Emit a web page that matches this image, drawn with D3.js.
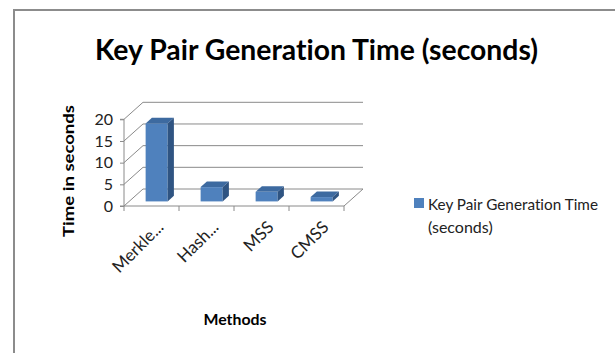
<!DOCTYPE html>
<html>
<head>
<meta charset="utf-8">
<script src="https://cdn.jsdelivr.net/npm/d3@7"></script>
<style>
  body { margin: 0; background: #fff; }
  svg { display: block; }
  text { font-variant-ligatures: none; }
</style>
</head>
<body>
<div id="chart"></div>
<script>
var w = 615, h = 353;

// data
var categories = ["Merkle...", "Hash...", "MSS", "CMSS"];
var values = [18, 3.3, 2.2, 1.0];
var yTicks = [0, 5, 10, 15, 20];
var seriesName = ["Key Pair Generation Time", "(seconds)"];

var font = "Lato, 'Open Sans', sans-serif";
var gridColor = "#8a8a8a";

// 3d depth offset (back wall relative to front plane)
var depthX = 19, depthY = -17;
var barFront = 0.27, barBack = 0.6;

var svg = d3.select("#chart").append("svg")
    .attr("width", w)
    .attr("height", h);

// outer frame
svg.append("rect")
    .attr("x", 14).attr("y", 10)
    .attr("width", 700).attr("height", 400)
    .attr("fill", "none")
    .attr("stroke", "#8c8c8c")
    .attr("stroke-width", 2);

var xScale = d3.scaleBand()
    .domain(categories)
    .range([124, 344])
    .paddingInner(0.6)
    .paddingOuter(0.3);

var yScale = d3.scaleLinear()
    .domain([0, 20])
    .range([206, 119.3]);

var x0 = xScale.range()[0], x1 = xScale.range()[1];

// back wall gridlines + side wall diagonals
var grid = svg.append("g").attr("stroke", gridColor).attr("stroke-width", 1).attr("fill", "none");
yTicks.forEach(function(t) {
    var y = yScale(t);
    grid.append("path")
        .attr("d", "M" + x0 + "," + y + "L" + (x0 + depthX) + "," + (y + depthY) +
                   "L" + (x1 + depthX) + "," + (y + depthY));
});
// floor front and right edges
grid.append("path")
    .attr("d", "M" + x0 + "," + yScale(0) + "L" + x1 + "," + yScale(0) +
               "L" + (x1 + depthX) + "," + (yScale(0) + depthY));

// y axis
var yAxis = d3.axisLeft(yScale).tickValues(yTicks).tickSize(4).tickPadding(7);
var gy = svg.append("g").attr("transform", "translate(" + x0 + ",0)").call(yAxis);
gy.select(".domain").attr("stroke", gridColor).attr("d", "M-4," + yScale(20) + "H0V" + yScale(0) + "H-4");
gy.selectAll(".tick line").attr("stroke", gridColor);
gy.selectAll(".tick text")
    .attr("font-family", font)
    .attr("font-size", "16px")
    .attr("fill", "#222");

// x axis ticks at category boundaries
var step = xScale.step();
var xb = svg.append("g").attr("stroke", gridColor);
d3.range(categories.length + 1).forEach(function(i) {
    var xx = x0 + i * step;
    xb.append("line").attr("x1", xx).attr("x2", xx)
        .attr("y1", yScale(0)).attr("y2", yScale(0) + 5);
});

// category labels
svg.append("g").selectAll("text")
    .data(categories)
    .enter()
    .append("text")
    .attr("transform", function(d) {
        var cx = xScale(d) + xScale.bandwidth() / 2 + 9;
        return "translate(" + cx + "," + 224 + ") rotate(-45)";
    })
    .attr("text-anchor", "end")
    .attr("dy", "0.35em")
    .attr("font-family", font)
    .attr("font-size", "17px")
    .attr("fill", "#222")
    .text(function(d) { return d; });

// bars
var fx = depthX * barFront, fy = depthY * barFront;
var bx = depthX * barBack, by = depthY * barBack;
var bars = svg.append("g").selectAll("g")
    .data(values)
    .enter()
    .append("g");

bars.append("rect")
    .attr("x", function(d, i) { return xScale(categories[i]) + fx; })
    .attr("y", function(d) { return yScale(d) + fy; })
    .attr("width", xScale.bandwidth())
    .attr("height", function(d) { return yScale(0) - yScale(d); })
    .attr("fill", "#4f81bd");

bars.append("path")
    .attr("d", function(d, i) {
        var a = xScale(categories[i]), b = a + xScale.bandwidth();
        var yt = yScale(d);
        return "M" + (a + fx) + "," + (yt + fy) + "L" + (b + fx) + "," + (yt + fy) +
               "L" + (b + bx) + "," + (yt + by) + "L" + (a + bx) + "," + (yt + by) + "Z";
    })
    .attr("fill", "#3d6aa0");

bars.append("path")
    .attr("d", function(d, i) {
        var b = xScale(categories[i]) + xScale.bandwidth();
        var yt = yScale(d), yb = yScale(0);
        return "M" + (b + fx) + "," + (yt + fy) + "L" + (b + bx) + "," + (yt + by) +
               "L" + (b + bx) + "," + (yb + by) + "L" + (b + fx) + "," + (yb + fy) + "Z";
    })
    .attr("fill", "#2f5482");

// title
svg.append("text")
    .attr("x", 316.5).attr("y", 60)
    .attr("text-anchor", "middle")
    .attr("font-family", font)
    .attr("font-weight", "bold")
    .attr("font-size", "29px")
    .attr("textLength", 443)
    .attr("lengthAdjust", "spacingAndGlyphs")
    .attr("fill", "#000")
    .text("Key Pair Generation Time (seconds)");

// axis titles
svg.append("text")
    .attr("transform", "translate(74,171) rotate(-90)")
    .attr("text-anchor", "middle")
    .attr("font-family", font)
    .attr("font-weight", "bold")
    .attr("font-size", "16px")
    .attr("textLength", 132)
    .attr("lengthAdjust", "spacingAndGlyphs")
    .attr("fill", "#000")
    .text("Time in seconds");

svg.append("text")
    .attr("x", 235).attr("y", 325)
    .attr("text-anchor", "middle")
    .attr("font-family", font)
    .attr("font-weight", "bold")
    .attr("font-size", "16px")
    .attr("textLength", 63)
    .attr("lengthAdjust", "spacingAndGlyphs")
    .attr("fill", "#000")
    .text("Methods");

// legend
svg.append("rect")
    .attr("x", 414).attr("y", 198)
    .attr("width", 10).attr("height", 10)
    .attr("fill", "#4f81bd");

svg.append("g").selectAll("text")
    .data(seriesName)
    .enter()
    .append("text")
    .attr("x", 428)
    .attr("y", function(d, i) { return 210 + i * 23; })
    .attr("font-family", font)
    .attr("font-size", "16px")
    .attr("textLength", function(d, i) { return i === 0 ? 170 : null; })
    .attr("lengthAdjust", "spacingAndGlyphs")
    .attr("fill", "#222")
    .text(function(d) { return d; });
</script>
</body>
</html>
